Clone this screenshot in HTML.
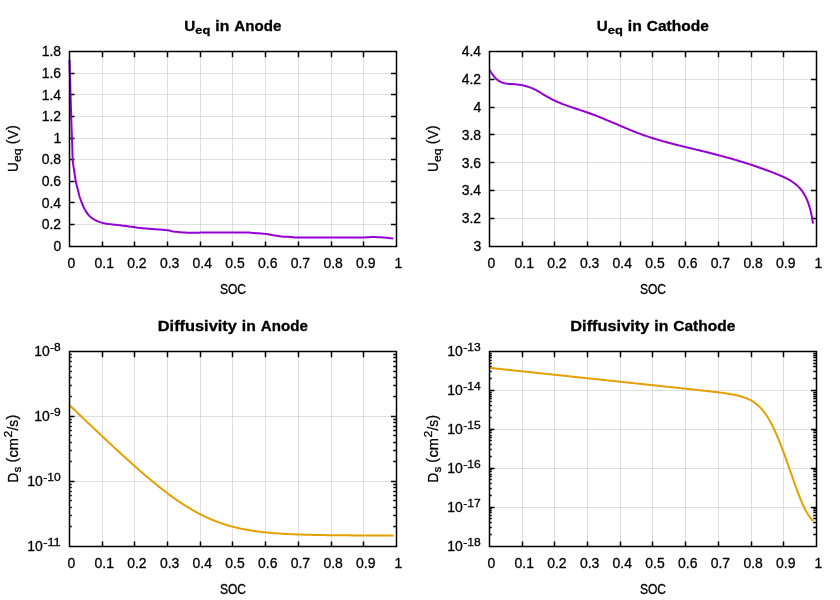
<!DOCTYPE html>
<html><head><meta charset="utf-8"><title>plot</title>
<style>
html,body{margin:0;padding:0;background:#fff;}
svg{display:block;will-change:transform;font-family:'Liberation Sans', sans-serif;}
text{fill:#000;font-family:"Liberation Sans",sans-serif;stroke:#000;stroke-width:0.3px;}
</style></head><body>
<svg width="840" height="600" viewBox="0 0 840 600">
<rect width="840" height="600" fill="#fff"/>
<path d="M102.5 51.5V246.5M134.5 51.5V246.5M167.5 51.5V246.5M200.5 51.5V246.5M232.5 51.5V246.5M265.5 51.5V246.5M298.5 51.5V246.5M331.5 51.5V246.5M363.5 51.5V246.5M69.5 224.5H396.5M69.5 202.5H396.5M69.5 181.5H396.5M69.5 159.5H396.5M69.5 138.5H396.5M69.5 116.5H396.5M69.5 94.5H396.5M69.5 73.5H396.5" stroke="#bebebe" stroke-width="0.5" fill="none"/>
<path d="M102.5 246.05v-4.65M102.5 51.65v5.5M134.5 246.05v-4.65M134.5 51.65v5.5M167.5 246.05v-4.65M167.5 51.65v5.5M200.5 246.05v-4.65M200.5 51.65v5.5M232.5 246.05v-4.65M232.5 51.65v5.5M265.5 246.05v-4.65M265.5 51.65v5.5M298.5 246.05v-4.65M298.5 51.65v5.5M331.5 246.05v-4.65M331.5 51.65v5.5M363.5 246.05v-4.65M363.5 51.65v5.5M69.0 224.5h5.5M396.0 224.5h-5.0M69.0 202.5h5.5M396.0 202.5h-5.0M69.0 181.5h5.5M396.0 181.5h-5.0M69.0 159.5h5.5M396.0 159.5h-5.0M69.0 138.5h5.5M396.0 138.5h-5.0M69.0 116.5h5.5M396.0 116.5h-5.0M69.0 94.5h5.5M396.0 94.5h-5.0M69.0 73.5h5.5M396.0 73.5h-5.0" stroke="#000" stroke-width="1.5" fill="none"/>
<path d="M69.50 60.00L69.54 61.50L69.59 63.00L69.63 64.49L69.68 65.99L69.72 67.49L69.77 68.99L69.81 70.48L69.86 71.98L69.90 73.48L69.95 74.98L69.99 76.47L70.04 77.97L70.08 79.47L70.13 80.97L70.17 82.47L70.22 83.96L70.26 85.46L70.31 86.96L70.35 88.46L70.40 89.95L70.44 91.45L70.49 92.95L70.53 94.45L70.58 95.95L70.62 97.44L70.67 98.94L70.71 100.44L70.76 101.94L70.81 103.43L70.85 104.93L70.90 106.43L70.95 107.93L70.99 109.42L71.04 110.92L71.09 112.42L71.14 113.92L71.18 115.42L71.23 116.91L71.28 118.41L71.33 119.91L71.38 121.41L71.43 122.90L71.48 124.40L71.53 125.90L71.58 127.40L71.64 128.89L71.69 130.39L71.75 131.89L71.80 133.39L71.86 134.88L71.91 136.38L71.97 137.88L72.03 139.37L72.08 140.87L72.14 142.37L72.19 143.87L72.24 145.36L72.30 146.86L72.34 148.36L72.38 149.86L72.42 151.36L72.46 152.86L72.50 154.36L72.55 155.85L72.60 157.35L72.67 158.85L72.75 160.34L72.88 161.83L73.05 163.31L73.26 164.80L73.48 166.28L73.71 167.77L73.94 169.25L74.16 170.73L74.37 172.22L74.58 173.70L74.79 175.19L75.01 176.67L75.24 178.15L75.48 179.63L75.74 181.10L76.04 182.57L76.37 184.03L76.73 185.48L77.11 186.94L77.49 188.39L77.86 189.84L78.22 191.30L78.56 192.76L78.92 194.21L79.30 195.66L79.72 197.10L80.19 198.52L80.70 199.93L81.24 201.33L81.79 202.72L82.34 204.12L82.92 205.51L83.52 206.88L84.16 208.23L84.85 209.56L85.59 210.88L86.38 212.17L87.23 213.39L88.15 214.55L89.17 215.66L90.27 216.72L91.41 217.68L92.61 218.54L93.88 219.35L95.21 220.08L96.56 220.74L97.92 221.34L99.32 221.90L100.75 222.40L102.18 222.82L103.63 223.15L105.10 223.44L106.58 223.70L108.06 223.92L109.55 224.13L111.04 224.33L112.53 224.51L114.02 224.67L115.51 224.82L117.00 224.96L118.49 225.12L119.98 225.29L121.47 225.47L122.95 225.66L124.44 225.85L125.93 226.04L127.41 226.24L128.90 226.44L130.38 226.65L131.86 226.87L133.35 227.08L134.83 227.28L136.31 227.48L137.80 227.68L139.29 227.88L140.77 228.06L142.26 228.23L143.75 228.37L145.24 228.50L146.74 228.62L148.23 228.74L149.73 228.85L151.22 228.96L152.72 229.07L154.21 229.19L155.70 229.31L157.20 229.42L158.70 229.52L160.19 229.62L161.69 229.73L163.19 229.85L164.68 229.98L166.17 230.13L167.65 230.30L169.12 230.56L170.59 230.87L172.06 231.19L173.53 231.47L175.01 231.68L176.50 231.88L177.99 232.06L179.48 232.21L180.97 232.32L182.47 232.41L183.96 232.49L185.46 232.56L186.96 232.63L188.45 232.71L189.95 232.79L191.45 232.84L192.95 232.85L194.45 232.85L195.95 232.85L197.44 232.85L198.93 232.68L200.42 232.50L201.91 232.50L203.40 232.50L204.90 232.50L206.39 232.50L207.89 232.50L209.39 232.50L210.88 232.50L212.38 232.50L213.88 232.50L215.38 232.50L216.88 232.50L218.38 232.50L219.88 232.50L221.38 232.50L222.88 232.50L224.38 232.50L225.88 232.50L227.38 232.50L228.88 232.50L230.38 232.50L231.88 232.50L233.38 232.50L234.88 232.50L236.38 232.50L237.88 232.50L239.39 232.50L240.89 232.50L242.39 232.50L243.89 232.50L245.39 232.50L246.89 232.50L248.38 232.50L249.86 232.54L251.33 232.88L252.81 233.03L254.31 233.11L255.81 233.17L257.31 233.23L258.80 233.31L260.30 233.43L261.79 233.56L263.28 233.71L264.77 233.87L266.26 234.07L267.74 234.30L269.21 234.56L270.69 234.82L272.16 235.09L273.64 235.36L275.12 235.61L276.60 235.83L278.08 236.05L279.57 236.26L281.06 236.43L282.55 236.57L284.04 236.67L285.54 236.74L287.03 236.79L288.53 236.85L290.03 236.92L291.52 237.01L293.01 237.20L294.50 237.42L295.99 237.50L297.48 237.50L298.98 237.50L300.47 237.50L301.97 237.50L303.46 237.50L304.96 237.50L306.46 237.50L307.95 237.50L309.45 237.50L310.95 237.50L312.45 237.50L313.95 237.50L315.45 237.50L316.95 237.50L318.45 237.50L319.95 237.50L321.45 237.50L322.95 237.50L324.45 237.50L325.95 237.50L327.45 237.50L328.95 237.50L330.45 237.50L331.95 237.50L333.45 237.50L334.95 237.50L336.45 237.50L337.95 237.50L339.45 237.50L340.94 237.50L342.44 237.50L343.94 237.50L345.44 237.50L346.94 237.50L348.44 237.50L349.94 237.50L351.44 237.50L352.93 237.50L354.43 237.50L355.93 237.50L357.43 237.50L358.93 237.50L360.42 237.50L361.92 237.50L363.42 237.50L364.92 237.45L366.41 237.35L367.91 237.25L369.40 237.18L370.90 237.12L372.40 237.10L373.90 237.11L375.40 237.12L376.90 237.13L378.39 237.16L379.89 237.21L381.39 237.31L382.88 237.42L384.37 237.53L385.87 237.66L387.36 237.81L388.85 237.98L390.33 238.17L391.82 238.37L393.30 238.60" stroke="#9400d3" stroke-width="2" fill="none" stroke-linejoin="round"/>
<rect x="69.5" y="51.5" width="327.0" height="195.0" fill="none" stroke="#000" stroke-width="1.5"/>
<text x="67.62" y="267.90" font-size="14.20" textLength="7.76" lengthAdjust="spacingAndGlyphs">0</text>
<text x="94.50" y="267.90" font-size="14.20" textLength="19.40" lengthAdjust="spacingAndGlyphs">0.1</text>
<text x="127.20" y="267.90" font-size="14.20" textLength="19.40" lengthAdjust="spacingAndGlyphs">0.2</text>
<text x="159.90" y="267.90" font-size="14.20" textLength="19.40" lengthAdjust="spacingAndGlyphs">0.3</text>
<text x="192.60" y="267.90" font-size="14.20" textLength="19.40" lengthAdjust="spacingAndGlyphs">0.4</text>
<text x="225.30" y="267.90" font-size="14.20" textLength="19.40" lengthAdjust="spacingAndGlyphs">0.5</text>
<text x="258.00" y="267.90" font-size="14.20" textLength="19.40" lengthAdjust="spacingAndGlyphs">0.6</text>
<text x="290.70" y="267.90" font-size="14.20" textLength="19.40" lengthAdjust="spacingAndGlyphs">0.7</text>
<text x="323.40" y="267.90" font-size="14.20" textLength="19.40" lengthAdjust="spacingAndGlyphs">0.8</text>
<text x="356.10" y="267.90" font-size="14.20" textLength="19.40" lengthAdjust="spacingAndGlyphs">0.9</text>
<text x="394.62" y="267.90" font-size="14.20" textLength="7.76" lengthAdjust="spacingAndGlyphs">1</text>
<text x="53.52" y="250.90" font-size="14.20" textLength="7.76" lengthAdjust="spacingAndGlyphs">0</text>
<text x="41.70" y="228.90" font-size="14.20" textLength="19.40" lengthAdjust="spacingAndGlyphs">0.2</text>
<text x="41.70" y="207.90" font-size="14.20" textLength="19.40" lengthAdjust="spacingAndGlyphs">0.4</text>
<text x="41.70" y="185.90" font-size="14.20" textLength="19.40" lengthAdjust="spacingAndGlyphs">0.6</text>
<text x="41.70" y="163.90" font-size="14.20" textLength="19.40" lengthAdjust="spacingAndGlyphs">0.8</text>
<text x="53.52" y="142.90" font-size="14.20" textLength="7.76" lengthAdjust="spacingAndGlyphs">1</text>
<text x="41.70" y="120.90" font-size="14.20" textLength="19.40" lengthAdjust="spacingAndGlyphs">1.2</text>
<text x="41.70" y="99.90" font-size="14.20" textLength="19.40" lengthAdjust="spacingAndGlyphs">1.4</text>
<text x="41.70" y="77.90" font-size="14.20" textLength="19.40" lengthAdjust="spacingAndGlyphs">1.6</text>
<text x="41.70" y="55.90" font-size="14.20" textLength="19.40" lengthAdjust="spacingAndGlyphs">1.8</text>
<text x="219.91" y="294.30" font-size="14.20" textLength="26.19" lengthAdjust="spacingAndGlyphs">SOC</text>
<text x="184.30" y="31.00" font-size="14.20" font-weight="bold" textLength="11.00" lengthAdjust="spacingAndGlyphs">U</text>
<text x="195.30" y="34.00" font-size="11.36" font-weight="bold" textLength="15.00" lengthAdjust="spacingAndGlyphs">eq</text>
<text x="215.30" y="31.00" font-size="14.20" font-weight="bold" textLength="14.00" lengthAdjust="spacingAndGlyphs">in</text>
<text x="234.30" y="31.00" font-size="14.20" font-weight="bold" textLength="47.00" lengthAdjust="spacingAndGlyphs">Anode</text>
<text x="-5.35" y="148.70" font-size="14.20" textLength="9.70" lengthAdjust="spacingAndGlyphs" transform="rotate(-90 18.00 148.70)">U</text>
<text x="4.71" y="151.70" font-size="11.36" textLength="13.58" lengthAdjust="spacingAndGlyphs" transform="rotate(-90 18.00 148.70)">eq</text>
<text x="22.57" y="147.40" font-size="14.20" textLength="4.85" lengthAdjust="spacingAndGlyphs" transform="rotate(-90 18.00 148.70)">(</text>
<text x="27.64" y="148.70" font-size="14.20" textLength="8.73" lengthAdjust="spacingAndGlyphs" transform="rotate(-90 18.00 148.70)">V</text>
<text x="36.58" y="147.40" font-size="14.20" textLength="4.85" lengthAdjust="spacingAndGlyphs" transform="rotate(-90 18.00 148.70)">)</text>
<path d="M522.5 51.5V246.5M554.5 51.5V246.5M587.5 51.5V246.5M620.5 51.5V246.5M652.5 51.5V246.5M685.5 51.5V246.5M718.5 51.5V246.5M751.5 51.5V246.5M783.5 51.5V246.5M489.5 218.5H816.5M489.5 190.5H816.5M489.5 162.5H816.5M489.5 134.5H816.5M489.5 107.5H816.5M489.5 79.5H816.5" stroke="#bebebe" stroke-width="0.5" fill="none"/>
<path d="M522.5 246.05v-4.65M522.5 51.65v5.5M554.5 246.05v-4.65M554.5 51.65v5.5M587.5 246.05v-4.65M587.5 51.65v5.5M620.5 246.05v-4.65M620.5 51.65v5.5M652.5 246.05v-4.65M652.5 51.65v5.5M685.5 246.05v-4.65M685.5 51.65v5.5M718.5 246.05v-4.65M718.5 51.65v5.5M751.5 246.05v-4.65M751.5 51.65v5.5M783.5 246.05v-4.65M783.5 51.65v5.5M489.0 218.5h5.5M816.0 218.5h-5.0M489.0 190.5h5.5M816.0 190.5h-5.0M489.0 162.5h5.5M816.0 162.5h-5.0M489.0 134.5h5.5M816.0 134.5h-5.0M489.0 107.5h5.5M816.0 107.5h-5.0M489.0 79.5h5.5M816.0 79.5h-5.0" stroke="#000" stroke-width="1.5" fill="none"/>
<path d="M489.60 70.00L490.36 71.23L491.15 72.48L492.00 73.73L492.89 74.98L493.83 76.19L494.82 77.36L495.87 78.47L496.98 79.50L498.14 80.43L499.37 81.25L500.67 81.93L502.02 82.49L503.44 82.93L504.89 83.28L506.38 83.54L507.90 83.74L509.44 83.89L510.98 84.00L512.53 84.11L514.07 84.21L515.60 84.33L517.10 84.47L518.59 84.65L520.05 84.86L521.49 85.10L522.92 85.38L524.33 85.70L525.73 86.05L527.12 86.44L528.49 86.87L529.85 87.34L531.20 87.86L532.54 88.42L533.88 89.03L535.21 89.69L536.53 90.39L537.85 91.13L539.17 91.90L540.49 92.69L541.80 93.49L543.12 94.31L544.44 95.12L545.76 95.92L547.09 96.70L548.43 97.46L549.77 98.20L551.11 98.91L552.47 99.59L553.82 100.25L555.19 100.89L556.55 101.51L557.93 102.11L559.30 102.70L560.68 103.26L562.07 103.82L563.45 104.35L564.84 104.88L566.24 105.39L567.63 105.89L569.03 106.38L570.43 106.87L571.84 107.35L573.24 107.82L574.65 108.28L576.05 108.75L577.46 109.21L578.87 109.67L580.28 110.13L581.69 110.60L583.10 111.06L584.50 111.53L585.91 112.01L587.32 112.49L588.72 112.98L590.12 113.48L591.53 113.98L592.93 114.50L594.32 115.03L595.72 115.56L597.11 116.10L598.51 116.65L599.90 117.20L601.29 117.76L602.68 118.33L604.07 118.90L605.46 119.48L606.85 120.06L608.24 120.65L609.63 121.23L611.01 121.82L612.40 122.41L613.79 123.01L615.17 123.60L616.56 124.20L617.95 124.79L619.33 125.39L620.72 125.98L622.11 126.58L623.50 127.17L624.89 127.75L626.28 128.34L627.67 128.92L629.06 129.50L630.45 130.07L631.85 130.64L633.24 131.20L634.64 131.76L636.04 132.31L637.44 132.85L638.84 133.39L640.25 133.91L641.65 134.43L643.06 134.94L644.47 135.44L645.88 135.93L647.30 136.42L648.71 136.89L650.13 137.36L651.55 137.82L652.97 138.27L654.40 138.71L655.82 139.15L657.25 139.57L658.68 140.00L660.11 140.41L661.54 140.82L662.97 141.23L664.41 141.63L665.84 142.02L667.28 142.41L668.72 142.80L670.16 143.18L671.60 143.55L673.04 143.92L674.49 144.29L675.93 144.66L677.38 145.02L678.82 145.38L680.27 145.74L681.72 146.10L683.17 146.45L684.62 146.80L686.07 147.15L687.52 147.50L688.97 147.85L690.42 148.20L691.87 148.55L693.32 148.90L694.78 149.25L696.23 149.60L697.68 149.95L699.14 150.30L700.59 150.66L702.05 151.01L703.50 151.37L704.95 151.73L706.41 152.09L707.86 152.46L709.32 152.82L710.77 153.19L712.22 153.56L713.68 153.94L715.13 154.31L716.58 154.69L718.03 155.07L719.49 155.46L720.94 155.85L722.39 156.24L723.84 156.63L725.29 157.03L726.74 157.43L728.18 157.83L729.63 158.24L731.08 158.65L732.52 159.06L733.97 159.48L735.41 159.90L736.85 160.32L738.29 160.75L739.73 161.18L741.17 161.62L742.61 162.06L744.05 162.50L745.48 162.95L746.91 163.41L748.35 163.86L749.78 164.33L751.20 164.79L752.63 165.26L754.06 165.74L755.48 166.22L756.90 166.71L758.32 167.20L759.74 167.69L761.16 168.19L762.57 168.70L763.99 169.21L765.40 169.72L766.80 170.25L768.21 170.77L769.61 171.31L771.02 171.84L772.41 172.39L773.81 172.94L775.21 173.49L776.60 174.06L777.99 174.62L779.37 175.20L780.76 175.78L782.13 176.38L783.49 176.99L784.85 177.62L786.18 178.28L787.50 178.95L788.81 179.66L790.09 180.39L791.35 181.16L792.58 181.97L793.79 182.81L794.97 183.70L796.11 184.63L797.22 185.60L798.29 186.62L799.33 187.69L800.32 188.79L801.28 189.93L802.18 191.12L803.04 192.35L803.85 193.61L804.61 194.91L805.34 196.23L806.01 197.59L806.65 198.97L807.25 200.37L807.81 201.79L808.34 203.22L808.83 204.66L809.29 206.11L809.72 207.56L810.12 209.01L810.50 210.46L810.85 211.90L811.18 213.34L811.49 214.77L811.78 216.20L812.05 217.64L812.31 219.10L812.55 220.57L812.78 222.07L813.00 223.60" stroke="#9400d3" stroke-width="2" fill="none" stroke-linejoin="round"/>
<rect x="489.5" y="51.5" width="327.0" height="195.0" fill="none" stroke="#000" stroke-width="1.5"/>
<text x="487.62" y="267.90" font-size="14.20" textLength="7.76" lengthAdjust="spacingAndGlyphs">0</text>
<text x="514.50" y="267.90" font-size="14.20" textLength="19.40" lengthAdjust="spacingAndGlyphs">0.1</text>
<text x="547.20" y="267.90" font-size="14.20" textLength="19.40" lengthAdjust="spacingAndGlyphs">0.2</text>
<text x="579.90" y="267.90" font-size="14.20" textLength="19.40" lengthAdjust="spacingAndGlyphs">0.3</text>
<text x="612.60" y="267.90" font-size="14.20" textLength="19.40" lengthAdjust="spacingAndGlyphs">0.4</text>
<text x="645.30" y="267.90" font-size="14.20" textLength="19.40" lengthAdjust="spacingAndGlyphs">0.5</text>
<text x="678.00" y="267.90" font-size="14.20" textLength="19.40" lengthAdjust="spacingAndGlyphs">0.6</text>
<text x="710.70" y="267.90" font-size="14.20" textLength="19.40" lengthAdjust="spacingAndGlyphs">0.7</text>
<text x="743.40" y="267.90" font-size="14.20" textLength="19.40" lengthAdjust="spacingAndGlyphs">0.8</text>
<text x="776.10" y="267.90" font-size="14.20" textLength="19.40" lengthAdjust="spacingAndGlyphs">0.9</text>
<text x="814.62" y="267.90" font-size="14.20" textLength="7.76" lengthAdjust="spacingAndGlyphs">1</text>
<text x="473.52" y="250.90" font-size="14.20" textLength="7.76" lengthAdjust="spacingAndGlyphs">3</text>
<text x="461.70" y="222.90" font-size="14.20" textLength="19.40" lengthAdjust="spacingAndGlyphs">3.2</text>
<text x="461.70" y="194.90" font-size="14.20" textLength="19.40" lengthAdjust="spacingAndGlyphs">3.4</text>
<text x="461.70" y="167.90" font-size="14.20" textLength="19.40" lengthAdjust="spacingAndGlyphs">3.6</text>
<text x="461.70" y="139.90" font-size="14.20" textLength="19.40" lengthAdjust="spacingAndGlyphs">3.8</text>
<text x="473.52" y="111.90" font-size="14.20" textLength="7.76" lengthAdjust="spacingAndGlyphs">4</text>
<text x="461.70" y="83.90" font-size="14.20" textLength="19.40" lengthAdjust="spacingAndGlyphs">4.2</text>
<text x="461.70" y="55.90" font-size="14.20" textLength="19.40" lengthAdjust="spacingAndGlyphs">4.4</text>
<text x="639.90" y="294.30" font-size="14.20" textLength="26.19" lengthAdjust="spacingAndGlyphs">SOC</text>
<text x="596.80" y="31.00" font-size="14.20" font-weight="bold" textLength="11.00" lengthAdjust="spacingAndGlyphs">U</text>
<text x="607.80" y="34.00" font-size="11.36" font-weight="bold" textLength="15.00" lengthAdjust="spacingAndGlyphs">eq</text>
<text x="627.80" y="31.00" font-size="14.20" font-weight="bold" textLength="14.00" lengthAdjust="spacingAndGlyphs">in</text>
<text x="646.80" y="31.00" font-size="14.20" font-weight="bold" textLength="62.00" lengthAdjust="spacingAndGlyphs">Cathode</text>
<text x="414.65" y="148.70" font-size="14.20" textLength="9.70" lengthAdjust="spacingAndGlyphs" transform="rotate(-90 438.00 148.70)">U</text>
<text x="424.71" y="151.70" font-size="11.36" textLength="13.58" lengthAdjust="spacingAndGlyphs" transform="rotate(-90 438.00 148.70)">eq</text>
<text x="442.57" y="147.40" font-size="14.20" textLength="4.85" lengthAdjust="spacingAndGlyphs" transform="rotate(-90 438.00 148.70)">(</text>
<text x="447.63" y="148.70" font-size="14.20" textLength="8.73" lengthAdjust="spacingAndGlyphs" transform="rotate(-90 438.00 148.70)">V</text>
<text x="456.57" y="147.40" font-size="14.20" textLength="4.85" lengthAdjust="spacingAndGlyphs" transform="rotate(-90 438.00 148.70)">)</text>
<path d="M102.5 351.5V546.5M134.5 351.5V546.5M167.5 351.5V546.5M200.5 351.5V546.5M232.5 351.5V546.5M265.5 351.5V546.5M298.5 351.5V546.5M331.5 351.5V546.5M363.5 351.5V546.5M69.5 481.5H396.5M69.5 416.5H396.5" stroke="#bebebe" stroke-width="0.5" fill="none"/>
<path d="M102.5 546.05v-4.65M102.5 351.65v5.5M134.5 546.05v-4.65M134.5 351.65v5.5M167.5 546.05v-4.65M167.5 351.65v5.5M200.5 546.05v-4.65M200.5 351.65v5.5M232.5 546.05v-4.65M232.5 351.65v5.5M265.5 546.05v-4.65M265.5 351.65v5.5M298.5 546.05v-4.65M298.5 351.65v5.5M331.5 546.05v-4.65M331.5 351.65v5.5M363.5 546.05v-4.65M363.5 351.65v5.5M69.0 481.5h5.5M396.0 481.5h-5.0M69.0 416.5h5.5M396.0 416.5h-5.0" stroke="#000" stroke-width="1.5" fill="none"/>
<path d="M69.0 526.5h2.75M396.0 526.5h-2.75M69.0 515.5h2.75M396.0 515.5h-2.75M69.0 507.5h2.75M396.0 507.5h-2.75M69.0 500.5h2.75M396.0 500.5h-2.75M69.0 495.5h2.75M396.0 495.5h-2.75M69.0 491.5h2.75M396.0 491.5h-2.75M69.0 487.5h2.75M396.0 487.5h-2.75M69.0 484.5h2.75M396.0 484.5h-2.75M69.0 461.5h2.75M396.0 461.5h-2.75M69.0 450.5h2.75M396.0 450.5h-2.75M69.0 442.5h2.75M396.0 442.5h-2.75M69.0 435.5h2.75M396.0 435.5h-2.75M69.0 430.5h2.75M396.0 430.5h-2.75M69.0 426.5h2.75M396.0 426.5h-2.75M69.0 422.5h2.75M396.0 422.5h-2.75M69.0 419.5h2.75M396.0 419.5h-2.75M69.0 396.5h2.75M396.0 396.5h-2.75M69.0 385.5h2.75M396.0 385.5h-2.75M69.0 377.5h2.75M396.0 377.5h-2.75M69.0 371.5h2.75M396.0 371.5h-2.75M69.0 366.5h2.75M396.0 366.5h-2.75M69.0 361.5h2.75M396.0 361.5h-2.75M69.0 357.5h2.75M396.0 357.5h-2.75M69.0 354.5h2.75M396.0 354.5h-2.75" stroke="#000" stroke-width="1.5" fill="none"/>
<path d="M69.50 405.13L70.58 406.17L71.66 407.21L72.74 408.24L73.83 409.28L74.91 410.32L75.99 411.35L77.07 412.39L78.16 413.43L79.24 414.46L80.32 415.50L81.40 416.53L82.49 417.57L83.57 418.60L84.66 419.64L85.74 420.67L86.83 421.71L87.91 422.74L89.00 423.77L90.08 424.80L91.17 425.84L92.26 426.87L93.34 427.90L94.43 428.93L95.52 429.96L96.61 430.99L97.70 432.02L98.79 433.05L99.88 434.08L100.97 435.11L102.06 436.13L103.15 437.16L104.24 438.19L105.33 439.21L106.43 440.24L107.52 441.26L108.62 442.29L109.71 443.31L110.81 444.33L111.91 445.35L113.00 446.37L114.10 447.39L115.20 448.41L116.30 449.43L117.40 450.44L118.50 451.46L119.61 452.47L120.71 453.49L121.82 454.50L122.92 455.51L124.03 456.52L125.14 457.53L126.25 458.54L127.36 459.54L128.47 460.55L129.58 461.55L130.70 462.55L131.82 463.55L132.93 464.55L134.05 465.55L135.17 466.54L136.30 467.53L137.42 468.52L138.55 469.51L139.67 470.50L140.80 471.48L141.94 472.47L143.07 473.45L144.20 474.42L145.34 475.40L146.48 476.37L147.63 477.34L148.77 478.31L149.92 479.27L151.07 480.24L152.22 481.19L153.37 482.15L154.53 483.10L155.69 484.05L156.86 484.99L158.02 485.93L159.19 486.87L160.37 487.80L161.54 488.73L162.72 489.65L163.91 490.57L165.09 491.49L166.29 492.40L167.48 493.30L168.68 494.20L169.88 495.09L171.09 495.98L172.30 496.86L173.52 497.74L174.74 498.61L175.96 499.47L177.19 500.33L178.43 501.18L179.67 502.02L180.91 502.85L182.16 503.68L183.42 504.50L184.68 505.31L185.94 506.11L187.21 506.91L188.49 507.69L189.77 508.47L191.06 509.23L192.36 509.99L193.66 510.73L194.96 511.47L196.28 512.19L197.59 512.90L198.92 513.61L200.25 514.30L201.58 514.98L202.92 515.64L204.27 516.30L205.63 516.94L206.99 517.57L208.35 518.19L209.72 518.79L211.10 519.38L212.48 519.96L213.87 520.53L215.27 521.08L216.66 521.62L218.07 522.14L219.48 522.65L220.89 523.15L222.31 523.63L223.73 524.10L225.16 524.55L226.59 524.99L228.03 525.42L229.47 525.84L230.91 526.24L232.36 526.63L233.81 527.00L235.27 527.36L236.72 527.71L238.18 528.05L239.65 528.38L241.11 528.69L242.58 528.99L244.05 529.28L245.52 529.56L247.00 529.83L248.47 530.09L249.95 530.34L251.43 530.57L252.91 530.80L254.39 531.02L255.88 531.23L257.36 531.43L258.85 531.62L260.34 531.81L261.83 531.98L263.31 532.15L264.80 532.31L266.30 532.46L267.79 532.61L269.28 532.75L270.77 532.88L272.26 533.01L273.76 533.13L275.25 533.25L276.75 533.36L278.24 533.47L279.74 533.57L281.23 533.66L282.73 533.76L284.22 533.84L285.72 533.93L287.22 534.01L288.71 534.08L290.21 534.15L291.71 534.22L293.21 534.29L294.70 534.35L296.20 534.41L297.70 534.47L299.20 534.52L300.69 534.57L302.19 534.62L303.69 534.66L305.19 534.71L306.68 534.75L308.18 534.79L309.68 534.83L311.18 534.86L312.68 534.90L314.18 534.93L315.67 534.96L317.17 534.99L318.67 535.02L320.17 535.04L321.67 535.07L323.17 535.09L324.66 535.12L326.16 535.14L327.66 535.16L329.16 535.18L330.66 535.20L332.16 535.21L333.66 535.23L335.15 535.25L336.65 535.26L338.15 535.28L339.65 535.29L341.15 535.30L342.65 535.32L344.15 535.33L345.64 535.34L347.14 535.35L348.64 535.36L350.14 535.37L351.64 535.38L353.14 535.39L354.64 535.39L356.13 535.40L357.63 535.41L359.13 535.42L360.63 535.42L362.13 535.43L363.63 535.44L365.13 535.44L366.62 535.45L368.12 535.45L369.62 535.46L371.12 535.46L372.62 535.47L374.12 535.47L375.62 535.47L377.12 535.48L378.61 535.48L380.11 535.49L381.61 535.49L383.11 535.49L384.61 535.49L386.11 535.50L387.61 535.50L389.10 535.50L390.60 535.50L392.10 535.51L393.60 535.51" stroke="#e69f00" stroke-width="2" fill="none" stroke-linejoin="round"/>
<rect x="69.5" y="351.5" width="327.0" height="195.0" fill="none" stroke="#000" stroke-width="1.5"/>
<text x="67.62" y="567.90" font-size="14.20" textLength="7.76" lengthAdjust="spacingAndGlyphs">0</text>
<text x="94.50" y="567.90" font-size="14.20" textLength="19.40" lengthAdjust="spacingAndGlyphs">0.1</text>
<text x="127.20" y="567.90" font-size="14.20" textLength="19.40" lengthAdjust="spacingAndGlyphs">0.2</text>
<text x="159.90" y="567.90" font-size="14.20" textLength="19.40" lengthAdjust="spacingAndGlyphs">0.3</text>
<text x="192.60" y="567.90" font-size="14.20" textLength="19.40" lengthAdjust="spacingAndGlyphs">0.4</text>
<text x="225.30" y="567.90" font-size="14.20" textLength="19.40" lengthAdjust="spacingAndGlyphs">0.5</text>
<text x="258.00" y="567.90" font-size="14.20" textLength="19.40" lengthAdjust="spacingAndGlyphs">0.6</text>
<text x="290.70" y="567.90" font-size="14.20" textLength="19.40" lengthAdjust="spacingAndGlyphs">0.7</text>
<text x="323.40" y="567.90" font-size="14.20" textLength="19.40" lengthAdjust="spacingAndGlyphs">0.8</text>
<text x="356.10" y="567.90" font-size="14.20" textLength="19.40" lengthAdjust="spacingAndGlyphs">0.9</text>
<text x="394.62" y="567.90" font-size="14.20" textLength="7.76" lengthAdjust="spacingAndGlyphs">1</text>
<text x="27.14" y="550.90" font-size="14.20" textLength="15.52" lengthAdjust="spacingAndGlyphs">10</text>
<text x="43.17" y="545.60" font-size="11.36" textLength="17.46" lengthAdjust="spacingAndGlyphs">-11</text>
<text x="27.14" y="485.90" font-size="14.20" textLength="15.52" lengthAdjust="spacingAndGlyphs">10</text>
<text x="43.17" y="480.60" font-size="11.36" textLength="17.46" lengthAdjust="spacingAndGlyphs">-10</text>
<text x="34.14" y="420.90" font-size="14.20" textLength="15.52" lengthAdjust="spacingAndGlyphs">10</text>
<text x="50.06" y="415.60" font-size="11.36" textLength="10.67" lengthAdjust="spacingAndGlyphs">-9</text>
<text x="34.14" y="355.90" font-size="14.20" textLength="15.52" lengthAdjust="spacingAndGlyphs">10</text>
<text x="50.06" y="350.60" font-size="11.36" textLength="10.67" lengthAdjust="spacingAndGlyphs">-8</text>
<text x="219.91" y="594.30" font-size="14.20" textLength="26.19" lengthAdjust="spacingAndGlyphs">SOC</text>
<text x="157.80" y="331.00" font-size="14.20" font-weight="bold" textLength="79.00" lengthAdjust="spacingAndGlyphs">Diffusivity</text>
<text x="241.80" y="331.00" font-size="14.20" font-weight="bold" textLength="14.00" lengthAdjust="spacingAndGlyphs">in</text>
<text x="260.80" y="331.00" font-size="14.20" font-weight="bold" textLength="47.00" lengthAdjust="spacingAndGlyphs">Anode</text>
<text x="-15.85" y="448.70" font-size="14.20" textLength="9.70" lengthAdjust="spacingAndGlyphs" transform="rotate(-90 18.00 448.70)">D</text>
<text x="-5.91" y="451.70" font-size="11.36" textLength="5.82" lengthAdjust="spacingAndGlyphs" transform="rotate(-90 18.00 448.70)">s</text>
<text x="4.08" y="447.40" font-size="14.20" textLength="4.85" lengthAdjust="spacingAndGlyphs" transform="rotate(-90 18.00 448.70)">(</text>
<text x="9.30" y="448.70" font-size="14.20" textLength="19.40" lengthAdjust="spacingAndGlyphs" transform="rotate(-90 18.00 448.70)">cm</text>
<text x="29.11" y="442.70" font-size="11.36" textLength="6.79" lengthAdjust="spacingAndGlyphs" transform="rotate(-90 18.00 448.70)">2</text>
<text x="36.16" y="448.70" font-size="14.20" textLength="10.67" lengthAdjust="spacingAndGlyphs" transform="rotate(-90 18.00 448.70)">/s</text>
<text x="47.08" y="447.40" font-size="14.20" textLength="4.85" lengthAdjust="spacingAndGlyphs" transform="rotate(-90 18.00 448.70)">)</text>
<path d="M522.5 351.5V546.5M554.5 351.5V546.5M587.5 351.5V546.5M620.5 351.5V546.5M652.5 351.5V546.5M685.5 351.5V546.5M718.5 351.5V546.5M751.5 351.5V546.5M783.5 351.5V546.5M489.5 507.5H816.5M489.5 468.5H816.5M489.5 429.5H816.5M489.5 390.5H816.5" stroke="#bebebe" stroke-width="0.5" fill="none"/>
<path d="M522.5 546.05v-4.65M522.5 351.65v5.5M554.5 546.05v-4.65M554.5 351.65v5.5M587.5 546.05v-4.65M587.5 351.65v5.5M620.5 546.05v-4.65M620.5 351.65v5.5M652.5 546.05v-4.65M652.5 351.65v5.5M685.5 546.05v-4.65M685.5 351.65v5.5M718.5 546.05v-4.65M718.5 351.65v5.5M751.5 546.05v-4.65M751.5 351.65v5.5M783.5 546.05v-4.65M783.5 351.65v5.5M489.0 507.5h5.5M816.0 507.5h-5.0M489.0 468.5h5.5M816.0 468.5h-5.0M489.0 429.5h5.5M816.0 429.5h-5.0M489.0 390.5h5.5M816.0 390.5h-5.0" stroke="#000" stroke-width="1.5" fill="none"/>
<path d="M489.0 534.5h2.75M816.0 534.5h-2.75M489.0 527.5h2.75M816.0 527.5h-2.75M489.0 522.5h2.75M816.0 522.5h-2.75M489.0 518.5h2.75M816.0 518.5h-2.75M489.0 515.5h2.75M816.0 515.5h-2.75M489.0 512.5h2.75M816.0 512.5h-2.75M489.0 510.5h2.75M816.0 510.5h-2.75M489.0 508.5h2.75M816.0 508.5h-2.75M489.0 495.5h2.75M816.0 495.5h-2.75M489.0 488.5h2.75M816.0 488.5h-2.75M489.0 483.5h2.75M816.0 483.5h-2.75M489.0 479.5h2.75M816.0 479.5h-2.75M489.0 476.5h2.75M816.0 476.5h-2.75M489.0 474.5h2.75M816.0 474.5h-2.75M489.0 471.5h2.75M816.0 471.5h-2.75M489.0 469.5h2.75M816.0 469.5h-2.75M489.0 456.5h2.75M816.0 456.5h-2.75M489.0 449.5h2.75M816.0 449.5h-2.75M489.0 444.5h2.75M816.0 444.5h-2.75M489.0 440.5h2.75M816.0 440.5h-2.75M489.0 437.5h2.75M816.0 437.5h-2.75M489.0 435.5h2.75M816.0 435.5h-2.75M489.0 432.5h2.75M816.0 432.5h-2.75M489.0 430.5h2.75M816.0 430.5h-2.75M489.0 417.5h2.75M816.0 417.5h-2.75M489.0 410.5h2.75M816.0 410.5h-2.75M489.0 405.5h2.75M816.0 405.5h-2.75M489.0 401.5h2.75M816.0 401.5h-2.75M489.0 398.5h2.75M816.0 398.5h-2.75M489.0 396.5h2.75M816.0 396.5h-2.75M489.0 394.5h2.75M816.0 394.5h-2.75M489.0 392.5h2.75M816.0 392.5h-2.75M489.0 378.5h2.75M816.0 378.5h-2.75M489.0 371.5h2.75M816.0 371.5h-2.75M489.0 366.5h2.75M816.0 366.5h-2.75M489.0 363.5h2.75M816.0 363.5h-2.75M489.0 360.5h2.75M816.0 360.5h-2.75M489.0 357.5h2.75M816.0 357.5h-2.75M489.0 355.5h2.75M816.0 355.5h-2.75M489.0 353.5h2.75M816.0 353.5h-2.75" stroke="#000" stroke-width="1.5" fill="none"/>
<path d="M489.50 367.86L490.99 368.02L492.48 368.18L493.97 368.33L495.47 368.49L496.96 368.65L498.45 368.81L499.94 368.97L501.43 369.13L502.92 369.28L504.41 369.44L505.91 369.60L507.40 369.76L508.89 369.92L510.38 370.08L511.87 370.24L513.36 370.39L514.85 370.55L516.35 370.71L517.84 370.87L519.33 371.03L520.82 371.19L522.31 371.34L523.80 371.50L525.29 371.66L526.78 371.82L528.28 371.98L529.77 372.14L531.26 372.30L532.75 372.45L534.24 372.61L535.73 372.77L537.22 372.93L538.72 373.09L540.21 373.25L541.70 373.40L543.19 373.56L544.68 373.72L546.17 373.88L547.66 374.04L549.16 374.20L550.65 374.36L552.14 374.51L553.63 374.67L555.12 374.83L556.61 374.99L558.10 375.15L559.60 375.31L561.09 375.46L562.58 375.62L564.07 375.78L565.56 375.94L567.05 376.10L568.54 376.26L570.04 376.42L571.53 376.57L573.02 376.73L574.51 376.89L576.00 377.05L577.49 377.21L578.98 377.37L580.47 377.52L581.97 377.68L583.46 377.84L584.95 378.00L586.44 378.16L587.93 378.32L589.42 378.47L590.91 378.63L592.41 378.79L593.90 378.95L595.39 379.11L596.88 379.27L598.37 379.43L599.86 379.58L601.35 379.74L602.85 379.90L604.34 380.06L605.83 380.22L607.32 380.38L608.81 380.53L610.30 380.69L611.79 380.85L613.29 381.01L614.78 381.17L616.27 381.33L617.76 381.48L619.25 381.64L620.74 381.80L622.23 381.96L623.73 382.12L625.22 382.28L626.71 382.43L628.20 382.59L629.69 382.75L631.18 382.91L632.67 383.07L634.17 383.23L635.66 383.38L637.15 383.54L638.64 383.70L640.13 383.86L641.62 384.02L643.11 384.18L644.61 384.33L646.10 384.49L647.59 384.65L649.08 384.81L650.57 384.97L652.06 385.13L653.55 385.28L655.04 385.44L656.54 385.60L658.03 385.76L659.52 385.92L661.01 386.08L662.50 386.24L663.99 386.39L665.48 386.55L666.98 386.71L668.47 386.87L669.96 387.03L671.45 387.19L672.94 387.34L674.43 387.50L675.92 387.66L677.42 387.82L678.91 387.98L680.40 388.14L681.89 388.30L683.38 388.46L684.87 388.62L686.36 388.78L687.85 388.94L689.35 389.10L690.84 389.26L692.33 389.42L693.82 389.58L695.31 389.74L696.80 389.90L698.29 390.06L699.78 390.22L701.27 390.39L702.77 390.55L704.26 390.72L705.75 390.88L707.24 391.05L708.73 391.22L710.22 391.39L711.71 391.56L713.20 391.74L714.69 391.91L716.17 392.09L717.66 392.28L719.15 392.47L720.64 392.66L722.13 392.86L723.61 393.06L725.10 393.27L726.58 393.49L728.06 393.72L729.54 393.96L731.02 394.21L732.50 394.48L733.97 394.76L735.44 395.06L736.90 395.39L738.36 395.73L739.82 396.10L741.26 396.50L742.70 396.94L744.12 397.41L745.53 397.92L746.92 398.47L748.30 399.07L749.65 399.72L750.98 400.42L752.28 401.16L753.55 401.96L754.79 402.81L755.99 403.70L757.16 404.65L758.29 405.63L759.38 406.66L760.44 407.73L761.45 408.83L762.44 409.96L763.39 411.12L764.31 412.30L765.20 413.51L766.06 414.74L766.89 415.99L767.70 417.25L768.49 418.53L769.25 419.82L769.99 421.12L770.71 422.43L771.42 423.76L772.11 425.09L772.78 426.43L773.44 427.78L774.09 429.13L774.73 430.49L775.35 431.85L775.96 433.22L776.56 434.60L777.15 435.97L777.74 437.36L778.31 438.74L778.88 440.13L779.44 441.52L780.00 442.91L780.55 444.31L781.09 445.71L781.62 447.11L782.16 448.51L782.68 449.91L783.21 451.32L783.73 452.73L784.24 454.13L784.75 455.54L785.26 456.96L785.77 458.37L786.27 459.78L786.78 461.19L787.28 462.61L787.77 464.02L788.27 465.44L788.77 466.85L789.26 468.27L789.76 469.68L790.25 471.10L790.74 472.52L791.24 473.93L791.73 475.35L792.23 476.76L792.72 478.18L793.22 479.59L793.72 481.01L794.22 482.42L794.72 483.83L795.23 485.25L795.74 486.66L796.25 488.07L796.77 489.47L797.29 490.88L797.82 492.28L798.36 493.69L798.90 495.08L799.44 496.48L800.00 497.87L800.56 499.26L801.14 500.65L801.72 502.03L802.32 503.40L802.94 504.77L803.56 506.13L804.21 507.49L804.88 508.83L805.56 510.17L806.27 511.49L807.01 512.79L807.79 514.08L808.59 515.34L809.44 516.58L810.32 517.79L811.26 518.96L812.25 520.09L813.30 521.16" stroke="#e69f00" stroke-width="2" fill="none" stroke-linejoin="round"/>
<rect x="489.5" y="351.5" width="327.0" height="195.0" fill="none" stroke="#000" stroke-width="1.5"/>
<text x="487.62" y="567.90" font-size="14.20" textLength="7.76" lengthAdjust="spacingAndGlyphs">0</text>
<text x="514.50" y="567.90" font-size="14.20" textLength="19.40" lengthAdjust="spacingAndGlyphs">0.1</text>
<text x="547.20" y="567.90" font-size="14.20" textLength="19.40" lengthAdjust="spacingAndGlyphs">0.2</text>
<text x="579.90" y="567.90" font-size="14.20" textLength="19.40" lengthAdjust="spacingAndGlyphs">0.3</text>
<text x="612.60" y="567.90" font-size="14.20" textLength="19.40" lengthAdjust="spacingAndGlyphs">0.4</text>
<text x="645.30" y="567.90" font-size="14.20" textLength="19.40" lengthAdjust="spacingAndGlyphs">0.5</text>
<text x="678.00" y="567.90" font-size="14.20" textLength="19.40" lengthAdjust="spacingAndGlyphs">0.6</text>
<text x="710.70" y="567.90" font-size="14.20" textLength="19.40" lengthAdjust="spacingAndGlyphs">0.7</text>
<text x="743.40" y="567.90" font-size="14.20" textLength="19.40" lengthAdjust="spacingAndGlyphs">0.8</text>
<text x="776.10" y="567.90" font-size="14.20" textLength="19.40" lengthAdjust="spacingAndGlyphs">0.9</text>
<text x="814.62" y="567.90" font-size="14.20" textLength="7.76" lengthAdjust="spacingAndGlyphs">1</text>
<text x="447.14" y="550.90" font-size="14.20" textLength="15.52" lengthAdjust="spacingAndGlyphs">10</text>
<text x="463.17" y="545.60" font-size="11.36" textLength="17.46" lengthAdjust="spacingAndGlyphs">-18</text>
<text x="447.14" y="511.90" font-size="14.20" textLength="15.52" lengthAdjust="spacingAndGlyphs">10</text>
<text x="463.17" y="506.60" font-size="11.36" textLength="17.46" lengthAdjust="spacingAndGlyphs">-17</text>
<text x="447.14" y="472.90" font-size="14.20" textLength="15.52" lengthAdjust="spacingAndGlyphs">10</text>
<text x="463.17" y="467.60" font-size="11.36" textLength="17.46" lengthAdjust="spacingAndGlyphs">-16</text>
<text x="447.14" y="433.90" font-size="14.20" textLength="15.52" lengthAdjust="spacingAndGlyphs">10</text>
<text x="463.17" y="428.60" font-size="11.36" textLength="17.46" lengthAdjust="spacingAndGlyphs">-15</text>
<text x="447.14" y="394.90" font-size="14.20" textLength="15.52" lengthAdjust="spacingAndGlyphs">10</text>
<text x="463.17" y="389.60" font-size="11.36" textLength="17.46" lengthAdjust="spacingAndGlyphs">-14</text>
<text x="447.14" y="355.90" font-size="14.20" textLength="15.52" lengthAdjust="spacingAndGlyphs">10</text>
<text x="463.17" y="350.60" font-size="11.36" textLength="17.46" lengthAdjust="spacingAndGlyphs">-13</text>
<text x="639.90" y="594.30" font-size="14.20" textLength="26.19" lengthAdjust="spacingAndGlyphs">SOC</text>
<text x="570.30" y="331.00" font-size="14.20" font-weight="bold" textLength="79.00" lengthAdjust="spacingAndGlyphs">Diffusivity</text>
<text x="654.30" y="331.00" font-size="14.20" font-weight="bold" textLength="14.00" lengthAdjust="spacingAndGlyphs">in</text>
<text x="673.30" y="331.00" font-size="14.20" font-weight="bold" textLength="62.00" lengthAdjust="spacingAndGlyphs">Cathode</text>
<text x="404.15" y="448.70" font-size="14.20" textLength="9.70" lengthAdjust="spacingAndGlyphs" transform="rotate(-90 438.00 448.70)">D</text>
<text x="414.09" y="451.70" font-size="11.36" textLength="5.82" lengthAdjust="spacingAndGlyphs" transform="rotate(-90 438.00 448.70)">s</text>
<text x="424.07" y="447.40" font-size="14.20" textLength="4.85" lengthAdjust="spacingAndGlyphs" transform="rotate(-90 438.00 448.70)">(</text>
<text x="429.30" y="448.70" font-size="14.20" textLength="19.40" lengthAdjust="spacingAndGlyphs" transform="rotate(-90 438.00 448.70)">cm</text>
<text x="449.11" y="442.70" font-size="11.36" textLength="6.79" lengthAdjust="spacingAndGlyphs" transform="rotate(-90 438.00 448.70)">2</text>
<text x="456.17" y="448.70" font-size="14.20" textLength="10.67" lengthAdjust="spacingAndGlyphs" transform="rotate(-90 438.00 448.70)">/s</text>
<text x="467.07" y="447.40" font-size="14.20" textLength="4.85" lengthAdjust="spacingAndGlyphs" transform="rotate(-90 438.00 448.70)">)</text>
</svg>
</body></html>
